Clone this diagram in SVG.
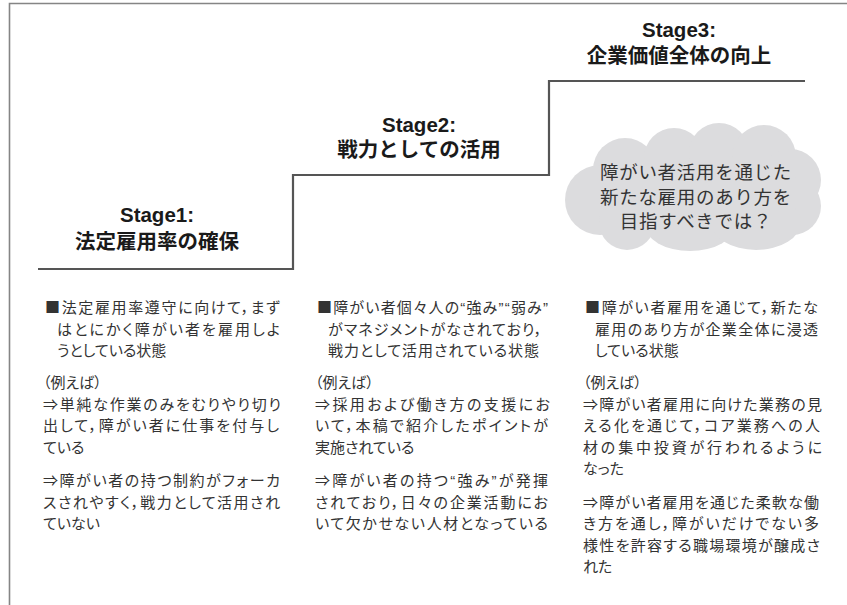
<svg xmlns="http://www.w3.org/2000/svg" width="847" height="605" viewBox="0 0 847 605">
<style>
.frame{fill:none;stroke:#858585;stroke-width:1.6}
.step{fill:none;stroke:#555;stroke-width:2.2}
.title{font-family:"Liberation Sans","Noto Sans CJK JP",sans-serif;font-weight:bold;font-size:20.5px;fill:#1a1a1a;text-anchor:middle}
.body{font-family:"Liberation Sans","Noto Sans CJK JP",sans-serif;font-size:15px;fill:#333;font-feature-settings:"palt"}
.sq{font-family:"Noto Sans CJK JP",sans-serif}
.cloud{fill:#dcdcde}
.ctext{font-family:"Noto Sans CJK JP",sans-serif;font-size:18.5px;fill:#333;text-anchor:middle;letter-spacing:0.7px}
</style>
<g id="frame"><path class="frame" d="M9.5,605 V3.5 H847"/></g>
<g id="connectors"><path class="step" d="M38,269 H293 V175 H549 V81 H805"/></g>
<g id="stage1">
<text class="title" x="157" y="222">Stage1:</text>
<text class="title" x="157" y="249">法定雇用率の確保</text>
</g>
<g id="stage2">
<text class="title" x="419" y="132">Stage2:</text>
<text class="title" x="419" y="157">戦力としての活用</text>
</g>
<g id="stage3">
<text class="title" x="679" y="37">Stage3:</text>
<text class="title" x="679" y="63">企業価値全体の向上</text>
</g>
<g id="cloud">
<g class="cloud">
<circle cx="625" cy="170" r="32"/>
<circle cx="674" cy="158" r="30"/>
<circle cx="719" cy="153" r="30"/>
<circle cx="764" cy="157" r="32"/>
<circle cx="790" cy="180" r="31"/>
<circle cx="792" cy="206" r="29"/>
<circle cx="600" cy="200" r="35"/>
<circle cx="627" cy="222" r="28"/>
<ellipse cx="690" cy="225" rx="45" ry="26"/>
<ellipse cx="756" cy="222" rx="45" ry="28"/>
<rect x="600" y="160" width="195" height="70"/>
</g>
<text class="ctext" x="696" y="179">障がい者活用を通じた</text>
<text class="ctext" x="696" y="204">新たな雇用のあり方を</text>
<text class="ctext" x="696" y="228">目指すべきでは？</text>
</g>
<g id="col1" class="body">
<text x="45" y="313" textLength="235" lengthAdjust="spacing"><tspan class="sq">■</tspan>法定雇用率遵守に向けて，まず</text>
<text x="57" y="334.5" textLength="223" lengthAdjust="spacing">はとにかく障がい者を雇用しよ</text>
<text x="57" y="356">うとしている状態</text>
<text x="43" y="388">（例えば）</text>
<text x="43" y="409.5" textLength="238" lengthAdjust="spacing">⇒単純な作業のみをむりやり切り</text>
<text x="43" y="431" textLength="236" lengthAdjust="spacing">出して，障がい者に仕事を付与し</text>
<text x="43" y="452.5">ている</text>
<text x="43" y="486" textLength="237" lengthAdjust="spacing">⇒障がい者の持つ制約がフォーカ</text>
<text x="43" y="507.5" textLength="237" lengthAdjust="spacing">スされやすく，戦力として活用され</text>
<text x="43" y="529">ていない</text>
</g>
<g id="col2" class="body">
<text x="317" y="313" textLength="231" lengthAdjust="spacing"><tspan class="sq">■</tspan>障がい者個々人の“強み”“弱み”</text>
<text x="328" y="334.5" textLength="214" lengthAdjust="spacing">がマネジメントがなされており，</text>
<text x="328" y="356" textLength="211" lengthAdjust="spacing">戦力として活用されている状態</text>
<text x="315" y="388">（例えば）</text>
<text x="315" y="409.5" textLength="235" lengthAdjust="spacing">⇒採用および働き方の支援にお</text>
<text x="315" y="431" textLength="233" lengthAdjust="spacing">いて，本稿で紹介したポイントが</text>
<text x="315" y="452.5">実施されている</text>
<text x="315" y="486" textLength="233" lengthAdjust="spacing">⇒障がい者の持つ“強み”が発揮</text>
<text x="315" y="507.5" textLength="233" lengthAdjust="spacing">されており，日々の企業活動にお</text>
<text x="315" y="529" textLength="233" lengthAdjust="spacing">いて欠かせない人材となっている</text>
</g>
<g id="col3" class="body">
<text x="585" y="313" textLength="233" lengthAdjust="spacing"><tspan class="sq">■</tspan>障がい者雇用を通じて，新たな</text>
<text x="595" y="334.5" textLength="223" lengthAdjust="spacing">雇用のあり方が企業全体に浸透</text>
<text x="595" y="356">している状態</text>
<text x="583" y="388">（例えば）</text>
<text x="583" y="409.5" textLength="239" lengthAdjust="spacing">⇒障がい者雇用に向けた業務の見</text>
<text x="583" y="431" textLength="237" lengthAdjust="spacing">える化を通じて，コア業務への人</text>
<text x="583" y="452.5" textLength="239" lengthAdjust="spacing">材の集中投資が行われるように</text>
<text x="583" y="474">なった</text>
<text x="583" y="507.5" textLength="236" lengthAdjust="spacing">⇒障がい者雇用を通じた柔軟な働</text>
<text x="583" y="529" textLength="236" lengthAdjust="spacing">き方を通し，障がいだけでない多</text>
<text x="583" y="550.5" textLength="237" lengthAdjust="spacing">様性を許容する職場環境が醸成さ</text>
<text x="583" y="572">れた</text>
</g>
</svg>
